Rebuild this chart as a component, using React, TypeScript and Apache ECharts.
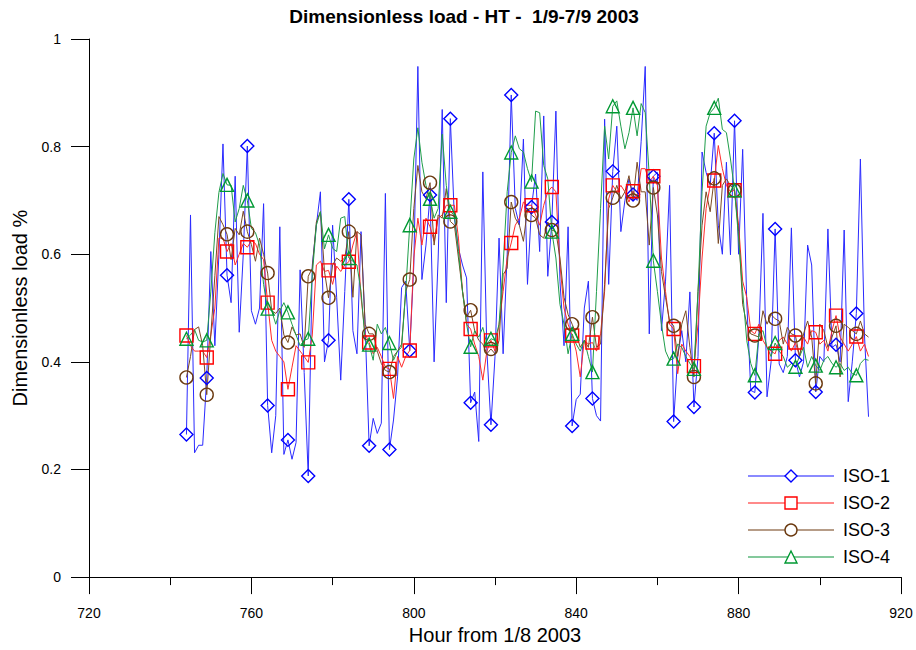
import React, { useEffect, useRef } from "react";
import * as echarts from "echarts";

const START_HOUR = 744;
const MARKER_EVERY = 5;

const TITLE = "Dimensionless load - HT -  1/9-7/9 2003";
const X_NAME = "Hour from 1/8 2003";
const Y_NAME = "Dimensionless load %";
const SERIES_NAMES = ["ISO-1", "ISO-2", "ISO-3", "ISO-4"];

const ISO1 = [
  0.265, 0.673, 0.231, 0.245, 0.245, 0.370, 0.605, 0.43, 0.60, 0.805,
  0.561, 0.51, 0.745, 0.455, 0.60, 0.801, 0.495, 0.47, 0.50, 0.694,
  0.319, 0.231, 0.30, 0.651, 0.228, 0.255, 0.219, 0.25, 0.571, 0.38,
  0.188, 0.58, 0.654, 0.716, 0.40, 0.44, 0.654, 0.52, 0.366, 0.531,
  0.702, 0.458, 0.415, 0.642, 0.47, 0.244, 0.295, 0.267, 0.286, 0.713,
  0.237, 0.292, 0.372, 0.538, 0.55, 0.421, 0.58, 0.949, 0.553, 0.617,
  0.71, 0.40, 0.593, 0.869, 0.51, 0.852, 0.667, 0.611, 0.58, 0.556,
  0.324, 0.344, 0.252, 0.753, 0.42, 0.283, 0.41, 0.63, 0.415, 0.60,
  0.896, 0.685, 0.654, 0.814, 0.544, 0.688, 0.749, 0.605, 0.857, 0.559,
  0.66, 0.866, 0.55, 0.43, 0.651, 0.281, 0.33, 0.34, 0.50, 0.55,
  0.332, 0.30, 0.29, 0.851, 0.544, 0.754, 0.838, 0.642, 0.70, 0.74,
  0.711, 0.70, 0.81, 0.949, 0.452, 0.745, 0.752, 0.458, 0.55, 0.728,
  0.289, 0.41, 0.458, 0.40, 0.53, 0.316, 0.41, 0.79, 0.752, 0.728,
  0.825, 0.654, 0.60, 0.771, 0.599, 0.848, 0.60, 0.795, 0.513, 0.347,
  0.343, 0.45, 0.676, 0.335, 0.40, 0.647, 0.396, 0.38, 0.41, 0.649,
  0.403, 0.372, 0.40, 0.617, 0.58, 0.344, 0.41, 0.40, 0.647, 0.427,
  0.432, 0.40, 0.645, 0.326, 0.40, 0.49, 0.777, 0.45, 0.298,
];

const ISO2 = [
  0.449, 0.43, 0.42, 0.42, 0.42, 0.408, 0.45, 0.50, 0.63, 0.63,
  0.605, 0.62, 0.58, 0.60, 0.62, 0.613, 0.625, 0.62, 0.60, 0.59,
  0.51, 0.44, 0.42, 0.41, 0.40, 0.349, 0.39, 0.43, 0.42, 0.41,
  0.399, 0.45, 0.58, 0.587, 0.568, 0.57, 0.544, 0.578, 0.568, 0.58,
  0.586, 0.617, 0.642, 0.52, 0.452, 0.436, 0.415, 0.427, 0.41, 0.39,
  0.387, 0.332, 0.41, 0.39, 0.41, 0.421, 0.593, 0.667, 0.617, 0.667,
  0.651, 0.624, 0.667, 0.673, 0.691, 0.691, 0.691, 0.63, 0.531, 0.47,
  0.461, 0.433, 0.41, 0.366, 0.42, 0.44, 0.42, 0.47, 0.531, 0.593,
  0.621, 0.654, 0.667, 0.697, 0.691, 0.691, 0.673, 0.654, 0.691, 0.716,
  0.725, 0.716, 0.58, 0.50, 0.47, 0.449, 0.42, 0.372, 0.44, 0.433,
  0.436, 0.42, 0.452, 0.531, 0.703, 0.728, 0.716, 0.728, 0.716, 0.697,
  0.717, 0.703, 0.759, 0.759, 0.734, 0.745, 0.728, 0.593, 0.531, 0.47,
  0.461, 0.378, 0.433, 0.42, 0.41, 0.392, 0.47, 0.593, 0.685, 0.728,
  0.737, 0.802, 0.759, 0.728, 0.716, 0.719, 0.654, 0.55, 0.52, 0.458,
  0.452, 0.47, 0.44, 0.427, 0.42, 0.415, 0.44, 0.446, 0.433, 0.42,
  0.436, 0.41, 0.446, 0.433, 0.458, 0.455, 0.433, 0.44, 0.42, 0.458,
  0.486, 0.446, 0.433, 0.42, 0.433, 0.447, 0.42, 0.433, 0.41,
];

const ISO3 = [
  0.371, 0.41, 0.46, 0.465, 0.43, 0.339, 0.45, 0.56, 0.67, 0.655,
  0.637, 0.59, 0.648, 0.636, 0.68, 0.642, 0.618, 0.587, 0.63, 0.60,
  0.565, 0.495, 0.49, 0.50, 0.45, 0.436, 0.465, 0.45, 0.452, 0.427,
  0.559, 0.574, 0.66, 0.679, 0.568, 0.519, 0.58, 0.593, 0.587, 0.593,
  0.642, 0.52, 0.642, 0.636, 0.47, 0.452, 0.452, 0.42, 0.397, 0.384,
  0.381, 0.41, 0.42, 0.433, 0.531, 0.553, 0.685, 0.765, 0.716, 0.703,
  0.733, 0.617, 0.673, 0.667, 0.722, 0.661, 0.654, 0.593, 0.531, 0.483,
  0.496, 0.458, 0.44, 0.433, 0.415, 0.424, 0.415, 0.44, 0.562, 0.574,
  0.697, 0.667, 0.654, 0.624, 0.685, 0.673, 0.667, 0.636, 0.63, 0.66,
  0.645, 0.642, 0.593, 0.52, 0.488, 0.47, 0.452, 0.427, 0.44, 0.427,
  0.483, 0.427, 0.433, 0.544, 0.685, 0.705, 0.728, 0.703, 0.716, 0.746,
  0.70, 0.771, 0.716, 0.716, 0.617, 0.724, 0.673, 0.568, 0.52, 0.476,
  0.467, 0.41, 0.47, 0.495, 0.427, 0.372, 0.531, 0.654, 0.716, 0.679,
  0.741, 0.62, 0.728, 0.74, 0.728, 0.719, 0.642, 0.507, 0.47, 0.452,
  0.449, 0.446, 0.495, 0.47, 0.488, 0.48, 0.476, 0.433, 0.464, 0.452,
  0.449, 0.41, 0.452, 0.476, 0.446, 0.36, 0.47, 0.458, 0.427, 0.446,
  0.467, 0.372, 0.47, 0.464, 0.458, 0.452, 0.476, 0.452, 0.446,
];

const ISO4 = [
  0.443, 0.45, 0.46, 0.44, 0.437, 0.44, 0.53, 0.64, 0.715, 0.75,
  0.729, 0.728, 0.66, 0.685, 0.728, 0.70, 0.648, 0.64, 0.617, 0.544,
  0.499, 0.495, 0.47, 0.495, 0.51, 0.492, 0.47, 0.45, 0.43, 0.44,
  0.443, 0.562, 0.654, 0.679, 0.61, 0.636, 0.611, 0.605, 0.667, 0.67,
  0.593, 0.587, 0.58, 0.531, 0.44, 0.432, 0.403, 0.47, 0.452, 0.464,
  0.435, 0.403, 0.42, 0.427, 0.531, 0.654, 0.777, 0.835, 0.771, 0.728,
  0.703, 0.667, 0.685, 0.823, 0.728, 0.679, 0.673, 0.605, 0.531, 0.47,
  0.428, 0.458, 0.446, 0.464, 0.433, 0.443, 0.44, 0.47, 0.58, 0.716,
  0.789, 0.82, 0.796, 0.79, 0.759, 0.735, 0.866, 0.863, 0.765, 0.74,
  0.642, 0.593, 0.507, 0.47, 0.415, 0.452, 0.433, 0.42, 0.44, 0.41,
  0.381, 0.531, 0.685, 0.838, 0.777, 0.875, 0.885, 0.838, 0.796, 0.826,
  0.872, 0.82, 0.88, 0.863, 0.746, 0.588, 0.531, 0.47, 0.42, 0.403,
  0.406, 0.433, 0.427, 0.41, 0.397, 0.387, 0.531, 0.716, 0.838, 0.863,
  0.872, 0.89, 0.832, 0.826, 0.777, 0.719, 0.63, 0.531, 0.44, 0.397,
  0.375, 0.452, 0.458, 0.427, 0.41, 0.435, 0.42, 0.41, 0.39, 0.397,
  0.391, 0.41, 0.427, 0.39, 0.41, 0.393, 0.384, 0.403, 0.41, 0.397,
  0.39, 0.397, 0.384, 0.39, 0.378, 0.375, 0.397, 0.405, 0.403,
];

const SERIES_VALUES = [ISO1, ISO2, ISO3, ISO4];
const LINE_COLORS = ["#2a2aff", "#ff2a2a", "#7a4a24", "#1f9d4a"];
const MARKER_COLORS = ["#0000ff", "#ff0000", "#6b3a10", "#009933"];
const SYMBOLS = ["diamond", "rect", "circle", "triangle"];
const SYMBOL_SIZES = [13, 13, 13, 13];

const FONT = "'Liberation Sans', Arial, sans-serif";

export default function App() {
  const ref = useRef<HTMLDivElement>(null);

  useEffect(() => {
    if (!ref.current) return;
    const chart = echarts.init(ref.current, null, { renderer: "svg" });

    const series = SERIES_VALUES.map((vals, s) => ({
      name: SERIES_NAMES[s],
      type: "line",
      showAllSymbol: true,
      symbol: SYMBOLS[s],
      symbolSize: SYMBOL_SIZES[s],
      silent: true,
      lineStyle: { color: LINE_COLORS[s], width: 1 },
      itemStyle: {
        color: "rgba(255,255,255,0)",
        borderColor: MARKER_COLORS[s],
        borderWidth: 1.4,
      },
      emphasis: { disabled: true },
      data: vals.map((v, i) => ({
        value: [START_HOUR + i, v],
        symbol: i % MARKER_EVERY === 0 ? SYMBOLS[s] : "none",
      })),
    }));

    chart.setOption({
      animation: false,
      backgroundColor: "#fff",
      title: {
        text: TITLE,
        left: 459,
        top: 2,
        textAlign: "center",
        textStyle: { fontFamily: FONT, fontWeight: "bold", fontSize: 19, color: "#000" },
      },
      legend: {
        orient: "vertical",
        left: 747,
        top: 467,
        padding: 0,
        itemWidth: 86,
        itemHeight: 15,
        itemGap: 9,
        selectedMode: false,
        textStyle: { fontFamily: FONT, fontSize: 18, color: "#000", padding: [0, 0, 0, 4] },
        data: SERIES_NAMES.map((n, s) => ({
          name: n,
          lineStyle: { color: LINE_COLORS[s], width: 2, opacity: 0.55 },
          itemStyle: { color: "#fff", borderColor: MARKER_COLORS[s], borderWidth: 1.4 },
        })),
      },
      grid: { left: 89, top: 39, width: 812, height: 543, containLabel: false },
      xAxis: {
        type: "value",
        min: 720,
        max: 920,
        interval: 40,
        name: X_NAME,
        nameLocation: "middle",
        nameGap: 46,
        nameTextStyle: { fontFamily: FONT, fontSize: 20, color: "#000" },
        axisLine: { show: true, onZero: false, lineStyle: { color: "#000", width: 1 } },
        axisTick: { show: true, inside: false, length: 17, lineStyle: { color: "#000" } },
        minorTick: { show: true, splitNumber: 2, length: 8, lineStyle: { color: "#000" } },
        splitLine: { show: false },
        axisLabel: { margin: 29, fontFamily: FONT, fontSize: 14, color: "#000" },
      },
      yAxis: {
        type: "value",
        min: 0,
        max: 1,
        interval: 0.2,
        name: Y_NAME,
        nameLocation: "middle",
        nameGap: 59,
        nameTextStyle: { fontFamily: FONT, fontSize: 20, color: "#000" },
        axisLine: { show: true, onZero: false, lineStyle: { color: "#000", width: 1 } },
        axisTick: { show: true, inside: false, length: 18, lineStyle: { color: "#000" } },
        minorTick: { show: false },
        splitLine: { show: false },
        axisLabel: {
          margin: 28,
          fontFamily: FONT,
          fontSize: 14,
          color: "#000",
          formatter: (v: number) => String(Math.round(v * 10) / 10),
        },
      },
      series,
    });

    return () => chart.dispose();
  }, []);

  return <div ref={ref} style={{ width: 916, height: 650, position: "absolute", left: 0, top: 0 }} />;
}
